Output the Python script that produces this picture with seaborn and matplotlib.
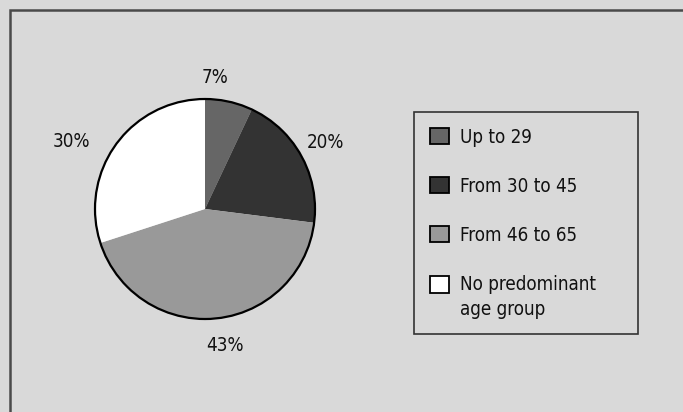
import matplotlib
matplotlib.use("Agg")
import matplotlib.pyplot as plt
from matplotlib.patches import Patch, Circle, Rectangle
from matplotlib.legend_handler import HandlerPatch
import seaborn as sns

# Share of establishments by predominant customer age group
groups = ["Up to 29", "From 30 to 45", "From 46 to 65", "No predominant\nage group"]
shares = [7, 20, 43, 30]
colors = ["#666666", "#333333", "#999999", "#ffffff"]

bg = "#d9d9d9"
FS = 13.5
LINESP = 1.4
sns.set_theme(style="white", rc={"figure.facecolor": bg, "axes.facecolor": bg})
plt.rcParams["font.family"] = ["Liberation Sans Narrow", "DejaVu Sans"]
plt.rcParams["font.stretch"] = "condensed"

W, H = 683, 412
fig = plt.figure(figsize=(W / 100, H / 100), dpi=100)
fig.patch.set_facecolor(bg)

# outer frame running off the right and bottom edges
fig.patches.append(Rectangle((10 / W, -0.1), 1.2, 1 - 10 / H + 0.1,
                             transform=fig.transFigure, fill=False,
                             edgecolor="#4a4a4a", linewidth=1.8))

ax = fig.add_axes([40 / W, 38 / H, 330 / W, 330 / H])
wedges, _, pct_texts = ax.pie(
    shares, colors=colors, startangle=90, counterclock=False,
    autopct="%.0f%%", pctdistance=1.25,
    wedgeprops=dict(linewidth=0),
    textprops=dict(fontsize=FS, color="#111111"),
)
ax.add_patch(Circle((0, 0), 1.0, fill=False, edgecolor="black", linewidth=1.6))
ax.set_xlim(-1.5, 1.5)
ax.set_ylim(-1.5, 1.5)
ax.set_aspect("equal")
ax.axis("off")

# small nudges so the labels sit where they read best
x, y = pct_texts[0].get_position()
pct_texts[0].set_position((x - 0.18, y - 0.02))
x, y = pct_texts[2].get_position()
pct_texts[2].set_position((x + 0.06, y))
x, y = pct_texts[3].get_position()
pct_texts[3].set_position((x - 0.2, y - 0.12))


class TopLineHandler(HandlerPatch):
    """Square key aligned with the first line of a multi-line label."""

    def __init__(self, lines, **kw):
        super().__init__(**kw)
        self.lines = lines

    def create_artists(self, legend, orig_handle, xdescent, ydescent,
                       width, height, fontsize, trans):
        shift = (self.lines - 1) * fontsize * LINESP / 2
        arts = super().create_artists(legend, orig_handle, xdescent,
                                      ydescent - shift, width, height,
                                      fontsize, trans)
        return arts


handles = [Patch(facecolor=w.get_facecolor(), edgecolor="black", linewidth=1.3)
           for w in wedges]
handler_map = {h: TopLineHandler(g.count("\n") + 1) for h, g in zip(handles, groups)}
leg = fig.legend(
    handles, groups,
    loc="upper left",
    bbox_to_anchor=(414 / W, 1 - 112 / H, 224 / W, 0.001),
    mode="expand", handler_map=handler_map,
    fontsize=FS, frameon=True, fancybox=False, shadow=False,
    handlelength=1.0, handleheight=1.0, handletextpad=0.6,
    labelspacing=1.6, borderpad=0.85, borderaxespad=0,
)
frame = leg.get_frame()
frame.set_edgecolor("#333333")
frame.set_linewidth(1.2)
frame.set_facecolor(bg)
frame.set_alpha(1)
for t in leg.get_texts():
    t.set_color("#111111")
    t.set_linespacing(LINESP)

fig.savefig("out.png", dpi=100, facecolor=bg)
